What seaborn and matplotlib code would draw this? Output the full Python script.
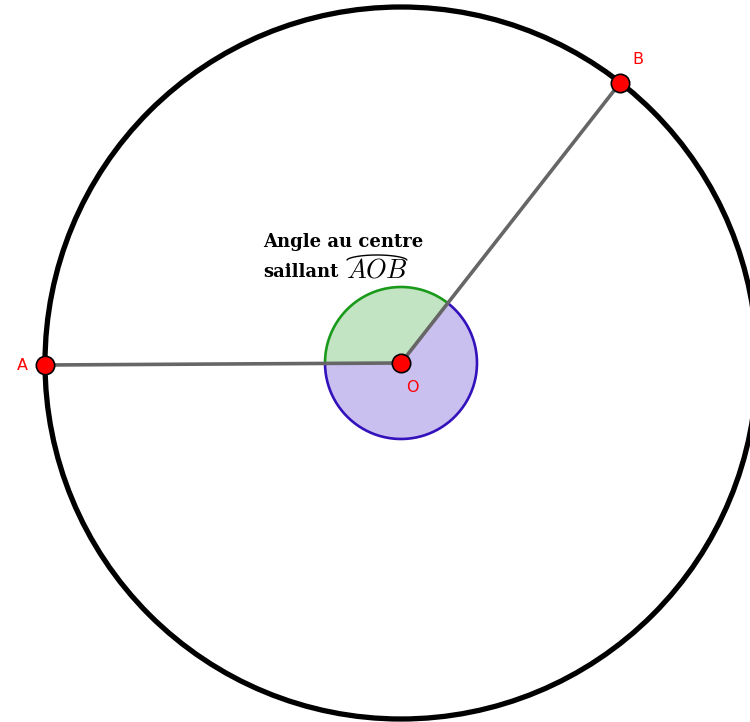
import numpy as np
import matplotlib
matplotlib.use("Agg")
import matplotlib.pyplot as plt
import seaborn as sns
import pandas as pd
from matplotlib.patches import Circle, Wedge

sns.set_theme(style="white")
plt.rcParams['mathtext.fontset'] = 'cm'

# Geometry data (math coordinates, centre O at origin)
point_names = ["A", "B", "O"]
point_x = [-356.0, 219.0, 0.0]
point_y = [-2.0, 280.0, 0.0]
radius_big = 356.0
radius_angle = 76.0
angle_A = 180.3
angle_B = 52.0

fig = plt.figure(figsize=(7.5, 7.22), dpi=100)
ax = fig.add_axes([0, 0, 1, 1])

# big circle
ax.add_patch(Circle((0, 0), radius_big, fill=False, ec='black', lw=3.8, zorder=2))

# angle sectors
ax.add_patch(Wedge((0, 0), radius_angle, angle_B, angle_A, fc='#c2e4c2', ec='none', zorder=1))
ax.add_patch(Wedge((0, 0), radius_angle, angle_A, angle_B + 360, fc='#cac0f0', ec='none', zorder=1))
t1 = np.linspace(np.radians(angle_B), np.radians(angle_A), 100)
ax.plot(radius_angle*np.cos(t1), radius_angle*np.sin(t1), color='#1a9a1a', lw=1.9, zorder=2)
t2 = np.linspace(np.radians(angle_A), np.radians(angle_B + 360), 200)
ax.plot(radius_angle*np.cos(t2), radius_angle*np.sin(t2), color='#3311bb', lw=1.9, zorder=2)

# segments OA and OB
ax.plot([point_x[2], point_x[0]], [point_y[2], point_y[0]], color='#666666', lw=2.6, zorder=3,
        solid_capstyle='butt')
ax.plot([point_x[2], point_x[1]], [point_y[2], point_y[1]], color='#666666', lw=2.6, zorder=3,
        solid_capstyle='butt')

# points
df = pd.DataFrame({"name": point_names, "x": point_x, "y": point_y})
sns.scatterplot(data=df, x="x", y="y", ax=ax, s=175, color='#ff0000',
                edgecolor='black', linewidth=1.2, zorder=5, legend=False)
ax.set_xlim(-401, 349)
ax.set_ylim(-359, 363)
ax.set_aspect('equal')
ax.axis('off')

# labels
ax.text(-384, -3, "A", color='#ff0000', fontsize=11.5, ha='left', va='center', family='DejaVu Sans')
ax.text(231, 304, "B", color='#ff0000', fontsize=11.5, ha='left', va='center', family='DejaVu Sans')
ax.text(5, -25, "O", color='#ff0000', fontsize=11.5, ha='left', va='center', family='DejaVu Sans')

ax.text(-138, 116, "Angle au centre", fontsize=13, fontweight='bold', family='DejaVu Serif',
        color='black', ha='left', va='baseline')
ax.text(-138, 86, "saillant", fontsize=13, fontweight='bold', family='DejaVu Serif',
        color='black', ha='left', va='baseline')
math_txt = ax.text(-55, 85, r"$AOB$", fontsize=19, color='black', ha='left', va='baseline')

# wide hat accent above AOB, placed from the rendered text extent
fig.canvas.draw()
bb = math_txt.get_window_extent().transformed(ax.transData.inverted())
hx = np.linspace(bb.x0 + 1, bb.x1 - 1, 60)
u = (hx - hx.mean()) / (hx[-1] - hx[0]) * 2
hy = bb.y1 - 2 + 5 * (1 - u**2) ** 0.6
ax.plot(hx, hy, color='black', lw=1.0, zorder=4)

fig.savefig("out.png", dpi=100)
